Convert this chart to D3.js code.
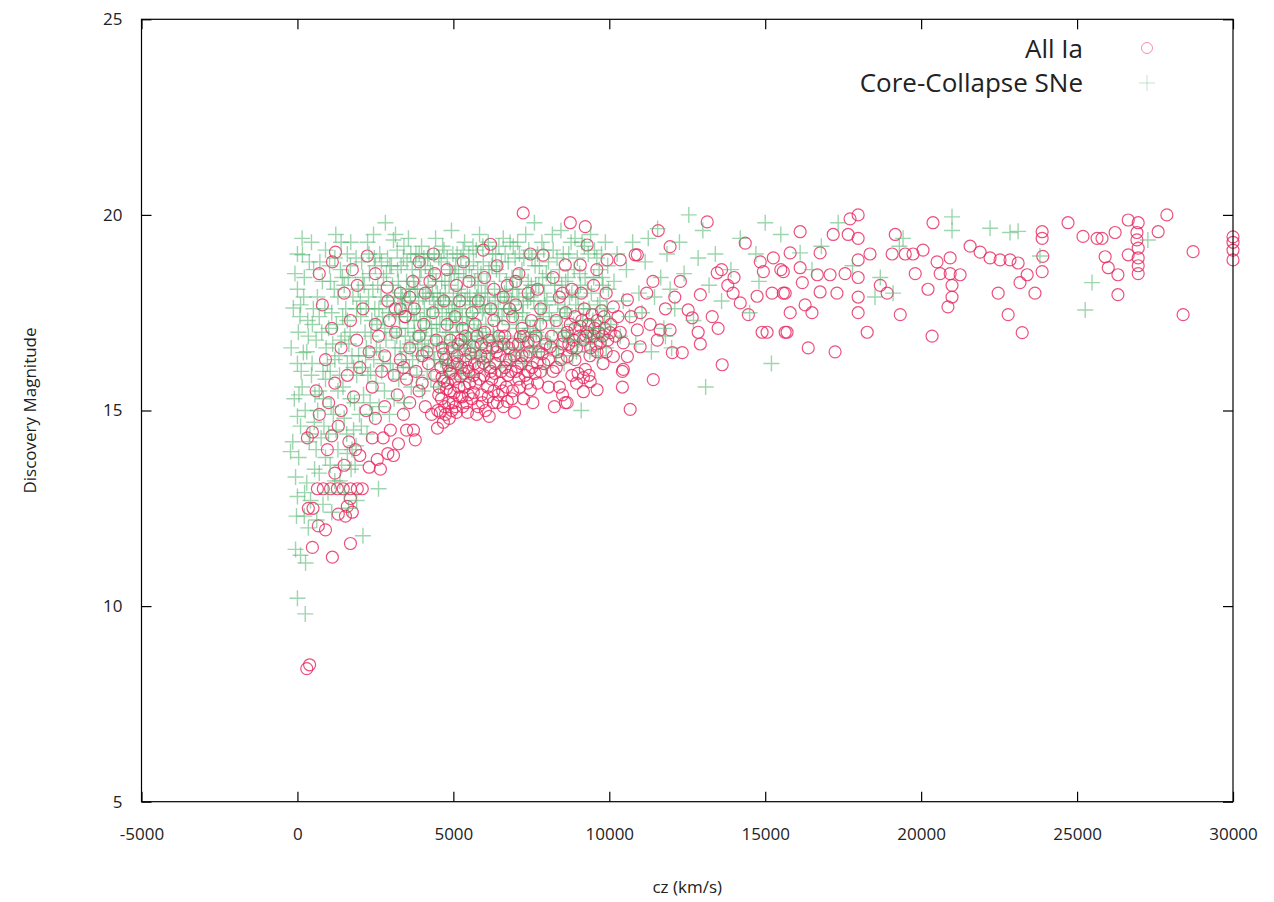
<!DOCTYPE html>
<html>
<head>
<meta charset="utf-8">
<script src="https://cdn.jsdelivr.net/npm/d3@7/dist/d3.min.js"></script>
<style>
  body { margin: 0; background: #fff; }
  text { font-family: "Open Sans", "Noto Sans", sans-serif; fill: #222; }
</style>
</head>
<body>
<svg id="chart" width="1274" height="902"></svg>
<script>
// tick values
const xTicks = [-5000, 0, 5000, 10000, 15000, 20000, 25000, 30000];
const yTicks = [5, 10, 15, 20, 25];
const seriesNames = ['All Ia', 'Core-Collapse SNe'];

// Type Ia: [cz (km/s), discovery magnitude]
const iaNear = [
  [300,8.4],[390,8.5],[480,11.5],[1120,11.25],[1700,11.6],
  [900,11.95],[670,12.05],[350,12.5],[500,12.5],[1310,12.35],[1540,12.3],[1760,12.4],[1600,12.55],[1700,12.75],
  [640,13.0],[830,13.0],[1060,13.0],[1280,13.0],[1470,13.0],[1700,13.0],[1920,13.0],[2080,13.0],
  [1200,13.4],[1500,13.6],[2000,13.85],[1860,14.0],[2300,13.55],[2660,13.5],[2560,13.75],[960,14.0],[320,14.3],
  [480,14.45],[1310,14.6],[1100,14.35],[1650,14.2],[2400,14.3],
  [700,14.9],[1000,15.2],[1400,15.0],[1800,15.35],[2200,15.0],[2500,14.8],[2800,15.1],[600,15.5],[1200,15.7],
  [1600,15.9],[2000,16.1],[2400,15.6],[2700,16.0],[900,16.3],[1400,16.6],[1900,16.8],[2300,16.5],[2600,16.9],
  [1100,17.1],[1700,17.3],[2100,17.6],[2500,17.2],[2900,17.8],[800,17.7],[1500,18.0],[1920,18.2],[2880,18.15],
  [1760,18.6],[1220,19.05],[1120,18.8],[2240,18.95],[700,18.5],[2500,18.5]
];
const iaMid = [
  [3080,13.85],[3240,14.15],[3780,14.25],[3720,14.5],[2980,14.5],[4490,14.55],[4680,14.7],[3400,14.9],[3600,15.2],
  [3200,15.4],[3900,15.5],[4100,15.1],[4300,14.9],[3500,15.8],[3800,16.0],[4000,15.7],[4200,16.2],[4400,15.9],
  [3300,16.3],[3600,16.6],[3900,16.9],[4150,16.5],[4450,16.8],[3150,17.0],[3450,17.4],[3750,17.6],[4050,17.2],
  [4350,17.5],[3140,17.6],[3460,17.4],[3300,18.0],[3700,18.3],[4100,18.0],[4400,18.5],[4360,19.0],[3900,18.8],
  [4500,15.0],[4620,15.3],[4750,14.9],[4850,15.2],[4950,15.0],[5000,15.2],[5100,14.95],[5200,15.35],[5300,15.1],
  [5450,14.95],[4550,15.6],[4700,15.75],[4810,15.7],[4900,15.5],[5050,15.8],[5220,15.87],[5350,15.6],[5480,15.4],
  [4600,16.1],[4750,16.3],[4880,16.0],[5000,16.22],[5120,16.4],[5260,16.1],[5400,16.3],[5500,16.0],[4650,16.6],
  [4900,16.8],[5150,16.7],[5380,16.9],[4800,17.2],[5050,17.4],[5300,17.1],[5320,18.8],[5100,18.2],[4700,17.8],
  [5640,15.46],[5800,15.1],[6030,15.0],[6280,15.2],[6410,15.2],[6730,15.23],[5900,15.4],[6100,15.6],[6300,15.5],
  [6500,15.7],[6700,15.6],[6900,15.5],[7100,15.8],[7470,15.53],[7300,15.9],[7700,15.7],[5650,15.9],[5800,16.1],
  [5960,16.22],[6090,16.38],[6200,16.0],[6350,16.2],[6500,16.4],[6650,16.1],[6800,16.3],[7050,16.12],[7200,16.4],
  [7400,16.0],[7690,16.22],[7850,16.45],[5640,16.63],[5900,16.7],[6150,16.8],[6410,16.63],[6650,16.9],[6900,16.7],
  [7150,16.89],[7400,16.75],[7650,16.9],[8110,16.63],[5700,17.2],[6000,17.0],[6300,17.3],[6600,17.15],[6900,17.4],
  [7200,17.1],[7500,17.3],[7800,17.2],[5800,17.8],[6200,17.6],[6600,17.9],[7000,17.7],[7400,18.0],[7800,17.6],
  [6730,18.2],[6000,18.4],[5960,19.1],[6190,19.25],[7470,19.0],[7880,18.97],[7240,20.05],[6400,18.7],[7100,18.5],
  [5500,18.3],
  [8240,15.1],[8650,15.2],[8590,15.2],[9170,15.48],[9390,15.74],[9610,15.53],[9170,15.84],[8400,15.6],[8800,15.9],
  [9000,15.95],[9230,16.05],[8300,16.1],[8650,16.38],[8900,16.3],[9610,16.5],[9800,16.2],[10130,16.38],[8500,16.7],
  [8800,16.6],[9170,16.8],[9400,16.6],[9710,16.73],[8650,17.0],[8900,17.1],[9070,17.15],[9300,17.0],[9500,16.9],
  [9610,17.3],[9850,17.1],[10030,16.99],[8300,17.3],[8600,17.5],[8900,17.4],[9200,17.6],[9450,17.45],[9750,17.55],
  [10130,17.65],[8400,17.9],[8800,18.1],[9100,18.0],[9500,18.2],[9900,18.0],[8590,18.72],[9070,18.72],[9290,19.23],
  [9930,18.85],[8750,19.8],[9230,19.7],[8200,18.4]
];
// the dense Ia clump between 4500 and 10500 km/s
const iaCore = [
  [4530,15.4],[4580,14.95],[4640,15.85],[4690,16.45],[4720,15.1],[4780,15.55],[4830,16.15],[4870,14.8],[4920,15.95],
  [4960,16.6],[5020,15.45],[5070,15.1],[5130,16.2],[5180,15.6],[5240,16.8],[5280,15.35],[5330,15.95],[5370,16.55],
  [5420,15.2],[5460,16.1],[5520,15.7],[5560,16.45],[5600,15.3],[5680,16.2],[5720,15.7],[5760,16.9],[5840,15.8],
  [5880,16.4],[5930,15.2],[5980,15.9],[6050,16.6],[6120,15.35],[6170,16.1],[6230,15.8],[6260,16.6],[6330,15.95],
  [6380,16.5],[6440,15.4],[6460,16.9],[6540,16.0],[6580,15.5],[6620,16.7],[6690,16.3],[6750,15.9],[6780,16.6],
  [6850,16.0],[6880,15.3],[6950,16.4],[7000,16.0],[7080,16.7],[7130,15.6],[7180,16.2],[7250,16.9],[7330,16.4],
  [7380,15.7],[7440,16.5],[7520,16.1],[7580,16.8],[7620,15.95],[7740,16.5],[7800,16.0],[7900,16.2],[7960,16.7],
  [8050,16.3],[8150,16.9],[8200,16.0],[8350,16.5],[8450,16.3],[8550,16.9],[8700,16.7],[8750,17.2],[8850,16.8],
  [8950,16.6],[9050,16.9],[9120,17.3],[9250,16.9],[9330,17.2],[9380,16.4],[9530,17.1],[9580,16.7],[9660,17.0],
  [9780,16.9],[9830,17.4],[9950,16.8],[10050,17.2],[10200,16.9],[10280,17.4],[10350,17.0],[9900,16.5],[9350,15.9],
  [8950,15.7],[8500,15.4],[8050,15.6],[7550,15.2],[7250,15.3],[6960,14.95],[6600,15.1],[6150,14.85],[5750,14.9],
  [3600,17.9],[4250,18.3],[4800,18.6],[5600,17.5],[6300,18.1],[7000,18.3],[7700,18.1],[8500,18.0],[3300,17.6],
  [5200,17.8],[6800,17.6],[9600,18.6],[4000,16.4],[3400,16.1],[2800,16.4],[2950,17.3],[3100,15.9],[2750,14.3],
  [2900,13.9],[3500,14.5]
];
const iaOuter = [
  [10350,18.85],[10830,18.98],[10580,17.83],[10900,17.06],[10450,16.05],[10420,15.6],[10670,15.03],[10450,16.73],
  [10990,16.63],[10580,16.38],[10420,16.0],[11410,15.79],[11310,17.2],[11540,16.8],[11950,17.06],[12020,16.48],
  [12340,16.48],[11570,19.6],[13140,19.82],[10900,18.98],[11950,19.19],[12280,18.3],[12920,17.96],[12530,17.57],
  [12660,17.37],[13300,17.4],[12850,17.0],[12920,16.7],[13490,17.1],[13620,16.17],[11630,17.06],[11000,17.5],
  [11200,18.0],[11800,17.6],[12100,17.9],[10700,17.4],[11400,18.3],[13460,18.52],[13970,18.0],[14200,17.75],
  [14460,17.45],[14740,17.92],[14900,17.0],[15060,17.0],[15700,17.0],[15800,17.5],[15640,18.0],[15220,18.0],
  [14360,19.28],[14840,18.8],[14940,18.55],[15260,18.9],[15800,19.03],[15580,18.55],[15500,18.6],[15580,18.0],
  [15640,17.0],[14000,18.4],[13600,18.6],[13800,18.2]
];
const iaFar = [
  [16120,19.57],[16760,19.03],[17180,19.5],[17720,19.9],[17980,20.0],[17660,19.5],[17980,19.4],[17980,18.85],
  [17980,18.4],[17980,17.9],[17980,17.5],[18360,19.0],[16120,18.65],[16190,18.27],[16280,17.7],[16500,17.5],
  [16380,16.6],[17240,16.5],[16670,18.47],[16760,18.03],[17300,18.0],[17080,18.47],[17560,18.5],[18270,17.0],
  [18690,18.2],[18910,18.0],[19330,17.45],[19170,19.5],[19070,19.0],[19490,19.0],[19740,19.0],[20060,19.1],
  [20380,19.8],[19810,18.5],[20220,18.1],[20350,16.9],[20510,18.8],[20610,18.5],[20930,18.9],[20930,18.5],
  [21250,18.47],[20990,18.2],[20990,17.9],[20860,17.65],[21570,19.2],[21890,19.05],[22210,18.9],[22530,18.85],
  [22850,18.85],[23110,18.77],[23400,18.47],[23170,18.27],[22470,18.0],[22790,17.45],[23240,16.99],[23650,18.0],
  [23880,19.57],[23880,19.4],[23900,18.94],[23880,18.55],[24710,19.8],[25190,19.45],[25640,19.4],[25800,19.4],
  [26220,19.55],[26640,19.87],[26960,19.8],[26920,19.55],[26920,19.36],[26960,19.15],[26960,18.9],[26960,18.7],
  [26960,18.5],[26640,18.98],[25900,18.93],[26000,18.65],[26310,18.47],[26310,17.96],[27600,19.57],[27880,20.0],
  [28720,19.06],[28400,17.45],[30000,19.44],[30000,19.3],[30000,19.1],[30000,18.85]
];

// Core-collapse: [cz (km/s), discovery magnitude]
const ccNear = [
  [0,10.2],[250,9.8],[100,11.3],[-60,11.45],[350,12.0],[220,12.3],[420,12.7],[0,12.8],[-60,13.3],[300,13.15],
  [-220,13.95],[100,14.6],[0,14.85],[380,14.2],[250,15.0],[-100,15.3],[150,15.6],[450,15.9],[0,16.2],[300,16.5],
  [190,16.48],[30,17.0],[-130,17.62],[100,17.7],[510,17.6],[0,18.1],[220,18.4],[160,18.98],[0,19.0],[480,17.2],
  [600,14.0],[700,13.4],[820,12.6],[900,13.8],[1000,14.4],[1080,15.1],[1200,13.2],[1300,14.0],[1420,13.6],
  [1500,14.8],[1600,13.9],[1700,15.3],[1800,14.5],[1900,15.9],[700,15.5],[820,16.0],[920,16.6],[1000,17.1],
  [1100,17.5],[1200,16.3],[1300,17.9],[1400,16.8],[1500,18.2],[1600,17.3],[1700,18.7],[1800,16.1],[1900,17.6],
  [600,16.8],[700,17.4],[800,18.3],[1060,18.3],[1440,18.4],[1200,18.9],[1400,19.3],[520,18.6],[1600,19.0],
  [1100,12.4],[1500,12.9],[620,12.2],[1900,12.7],[650,15.0],[900,15.8],[400,14.4],[1300,15.5],[1600,16.2],
  [1050,16.0],[550,13.5],[850,14.6],[1150,14.9],[1750,14.0],[350,16.9],[780,17.0],[1250,17.2],[1650,16.7],
  [1950,18.1],[900,19.1],[450,19.3],[-200,16.6],[-150,14.2],[50,15.4],[200,17.9],[1350,15.9],[1550,17.6],
  [1850,13.6],[1750,16.4],
  [560,15.4],[640,17.9],[760,14.3],[830,15.3],[880,17.6],[960,16.2],[1030,18.7],[1130,16.7],[1180,18.1],
  [1240,14.5],[1330,16.4],[1380,18.6],[1460,15.6],[1520,16.9],[1580,14.4],[1630,18.4],[1690,17.0],[1720,13.5],
  [1780,17.9],[1830,15.2],[1880,18.9],[1960,16.4],[1990,14.9],[-80,18.5],[120,16.0],[40,13.8],[230,12.9],
  [330,17.3],[380,18.8],[470,16.2],[540,14.7],[-30,12.3],[260,11.1],[80,17.4],[150,19.4],[980,12.9],[1360,13.2],
  [1640,12.5],[1450,17.4],[1050,13.6],[720,18.8],[1880,14.1],[1230,19.5],[1710,19.3]
];
const ccMid = [
  [2050,14.6],[2080,16.1],[2030,17.4],[2060,18.8],[2120,15.4],[2170,17.0],[2140,18.2],[2100,11.8],
  [2230,14.4],[2260,15.9],[2210,16.6],[2280,17.9],[2250,19.3],[2330,15.2],[2360,16.9],[2310,18.5],[2440,19.5],
  [2410,14.9],[2450,16.3],[2480,17.6],[2420,18.1],[2520,15.7],[2550,17.2],[2500,18.7],[2600,13.0],
  [2620,15.1],[2650,16.5],[2680,17.9],[2640,19.0],[2700,16.0],[2730,17.4],[2760,18.4],[2790,15.5],[2820,19.8],
  [2840,16.8],[2870,17.8],[2890,18.9],[2950,14.9],[2980,16.2],
  [3020,17.0],[3050,18.2],[3080,19.36],[3100,15.3],[3130,16.6],[3160,17.5],[3200,19.1],[3210,18.6],[3250,15.8],
  [3280,17.1],[3310,18.0],[3340,16.3],[3370,17.7],[3400,18.9],[3430,15.2],[3460,16.9],[3500,18.3],[3530,17.4],
  [3560,19.4],[3590,16.1],[3620,17.9],[3650,15.6],[3680,18.6],[3710,16.8],[3740,17.3],[3770,18.1],[3800,19.0],
  [3830,15.9],[3860,16.6],[3890,17.8],[3920,18.4],[3950,17.0],[3980,19.2],
  [4010,15.5],[4040,16.4],[4070,17.6],[4100,18.7],[4130,17.1],[4160,16.0],[4190,18.2],[4220,19.0],[4250,17.4],
  [4280,15.8],[4310,16.9],[4340,18.5],[4370,17.8],[4400,16.3],[4430,19.4],[4460,17.2],[4490,18.0],[4520,15.6],
  [4550,16.7],[4580,17.9],[4610,18.8],[4640,17.5],[4670,16.2],[4700,19.1],[4730,18.3],[4760,17.0],[4790,15.9],
  [4820,16.5],[4850,17.7],[4880,18.6],[4910,17.3],[4940,19.6],[4970,16.8],
  [5000,17.9],[5030,18.5],[5060,16.0],[5090,17.2],[5120,19.0],[5150,18.1],[5180,16.6],[5210,17.6],[5240,18.9],
  [5270,15.8],[5300,17.0],[5330,18.4],[5360,19.3],[5390,16.4],[5420,17.4],[5450,18.0],[5480,16.9],[5510,18.7],
  [5540,17.7],[5570,15.9],[5600,16.8],[5630,19.2],[5660,17.3],[5690,18.3],[5720,16.3],[5750,17.9],[5780,18.6],
  [5810,17.1],[5840,19.5],[5870,16.6],[5900,18.0],[5930,17.5],[5960,18.8],
  [6000,16.2],[6040,17.2],[6080,18.3],[6120,19.3],[6160,17.7],[6200,16.5],[6240,18.7],[6280,17.0],[6320,18.1],
  [6360,19.0],[6400,16.8],[6440,17.6],[6480,18.5],[6520,16.1],[6560,17.4],[6600,19.4],[6640,18.0],[6680,16.6],
  [6720,17.9],[6760,18.8],[6800,17.2],[6840,16.3],[6880,18.4],[6920,19.2],[6960,17.5],
  [7000,16.4],[7040,18.1],[7080,17.1],[7120,19.0],[7160,16.8],[7200,18.6],[7240,17.7],[7280,16.2],[7320,19.5],
  [7360,17.3],[7400,18.3],[7440,16.6],[7480,17.9],[7520,18.9],[7560,17.0],[7600,19.8],[7640,18.2],[7680,16.5],
  [7720,17.6],[7760,18.7],[7800,16.9],[7840,19.3],[7880,17.4],[7920,18.0],[7960,16.1],
  [8000,17.8],[8050,18.8],[8100,16.7],[8150,17.3],[8200,19.1],[8250,18.2],[8300,16.4],[8350,17.7],[8400,18.6],
  [8450,19.6],[8500,17.0],[8550,16.2],[8600,18.3],[8650,17.5],[8700,19.0],[8750,16.8],[8800,18.0],[8850,17.2],
  [8900,19.4],[8950,16.5],
  [9000,17.9],[9050,18.5],[9100,15.0],[9150,17.3],[9200,19.2],[9250,16.7],[9300,18.1],[9350,17.6],[9400,19.5],
  [9450,16.9],[9500,18.4],[9550,17.1],[9600,18.9],[9650,16.4],[9700,17.8],[9750,19.0],[9800,18.2],[9850,17.4],
  [9900,16.6],[9950,18.7]
];
// second pass over the thick CC band (2000-10000 km/s)
const ccBand = [
  [2015,17.8],[2095,18.4],[2185,16.4],[2205,17.6],[2295,19.0],[2345,16.0],[2385,17.3],[2465,18.9],[2535,16.6],
  [2575,18.2],[2615,17.6],[2695,18.8],[2745,16.2],[2805,17.1],[2855,18.5],[2935,17.5],[2965,18.7],
  [3015,18.7],[3065,16.0],[3115,17.9],[3145,19.5],[3185,16.9],[3235,18.3],[3265,17.4],[3295,16.6],[3325,18.7],
  [3355,17.9],[3395,16.1],[3415,19.2],[3445,17.8],[3485,16.5],[3515,18.8],[3545,17.1],[3575,18.1],[3605,16.7],
  [3635,19.0],[3665,17.6],[3695,16.3],[3725,18.3],[3755,17.0],[3785,18.8],[3815,17.5],[3845,18.1],[3875,16.4],
  [3905,19.0],[3935,17.3],[3965,18.6],[3995,16.7],
  [4025,17.9],[4055,18.9],[4085,16.8],[4115,18.0],[4145,17.4],[4175,18.9],[4205,16.6],[4235,17.9],[4265,18.6],
  [4295,17.1],[4325,18.0],[4355,16.5],[4385,19.0],[4415,17.6],[4445,18.3],[4475,16.9],[4505,17.7],[4535,18.9],
  [4565,17.2],[4595,16.3],[4625,18.3],[4655,19.2],[4685,17.8],[4715,16.7],[4745,18.0],[4775,17.4],[4805,18.9],
  [4835,16.2],[4865,18.2],[4895,17.0],[4925,18.5],[4955,17.6],[4985,19.0],
  [5015,16.6],[5045,17.5],[5075,18.7],[5105,17.8],[5135,16.4],[5165,18.5],[5195,17.2],[5225,16.1],[5255,18.0],
  [5285,17.4],[5315,19.1],[5345,16.7],[5375,17.8],[5405,18.6],[5435,16.8],[5465,17.2],[5495,19.0],[5525,17.9],
  [5555,16.5],[5585,18.4],[5615,17.5],[5645,18.8],[5675,16.6],[5705,17.8],[5735,19.1],[5765,17.0],[5795,18.2],
  [5825,16.4],[5855,17.7],[5885,18.5],[5915,16.9],[5945,19.2],[5975,17.6],
  [6020,18.0],[6060,16.8],[6100,17.9],[6140,18.6],[6180,16.3],[6220,17.5],[6260,19.0],[6300,16.9],[6340,17.8],
  [6380,18.6],[6420,17.3],[6460,19.2],[6500,17.9],[6540,18.8],[6580,16.7],[6620,17.6],[6660,19.0],[6700,18.3],
  [6740,16.9],[6780,17.6],[6820,19.3],[6860,17.8],[6900,18.1],[6940,16.6],[6980,18.9],
  [7020,17.4],[7060,19.3],[7100,17.9],[7140,18.4],[7180,16.5],[7220,17.5],[7260,18.9],[7300,16.9],[7340,18.0],
  [7380,17.8],[7420,19.1],[7460,17.1],[7500,18.2],[7540,16.6],[7580,17.8],[7620,18.7],[7660,17.0],[7700,19.0],
  [7740,18.2],[7780,17.3],[7820,16.5],[7860,18.4],[7900,19.1],[7940,17.7],[7980,18.5],
  [8025,16.8],[8075,17.5],[8125,18.4],[8175,19.5],[8225,17.1],[8275,17.9],[8325,18.9],[8375,16.6],[8425,17.4],
  [8475,18.2],[8525,19.0],[8575,17.6],[8625,16.9],[8675,18.4],[8725,17.9],[8775,19.3],[8825,16.4],[8875,18.6],
  [8925,17.7],[8975,18.9],
  [9025,16.8],[9075,18.2],[9125,19.3],[9175,17.6],[9225,18.4],[9275,17.0],[9325,19.0],[9375,16.5],[9425,18.0],
  [9475,17.3],[9525,19.1],[9575,16.8],[9625,17.7],[9675,18.6],[9725,17.1],[9775,18.4],[9825,16.9],[9875,19.3],
  [9925,17.6],[9975,18.1]
];
const ccOuter = [
  [10050,17.2],[10150,18.3],[10250,19.0],[10350,16.9],[10450,17.8],[10550,18.6],[10650,17.4],[10750,19.3],
  [10850,16.7],[10950,18.0],[11050,17.5],[11150,18.8],[11250,19.4],[11350,16.5],[11450,17.9],[11550,19.65],
  [11650,18.4],[11750,17.1],[11850,19.0],[11950,18.1],[12100,17.6],[12250,19.3],[12400,18.5],[12550,20.0],
  [12700,17.3],[12850,18.9],[13090,15.6],[13200,18.2],[13400,19.0],[13600,17.8],[13900,18.6],[14200,19.4],
  [14500,17.5],[14800,18.3],[15000,19.8],[15200,16.2],[14700,19.0],[12000,16.6],[13000,19.6],[11800,16.9]
];
const ccFar = [
  [16120,19.03],[16500,18.6],[17340,19.8],[18690,18.4],[18520,17.9],[19100,18.0],[19420,19.4],[19300,19.2],
  [20990,19.95],[20990,19.6],[22210,19.66],[22850,19.55],[23110,19.58],[23810,18.95],[25480,18.27],[25260,17.57],
  [27270,19.36],[15500,19.5],[16800,19.2],[17800,18.7]
];

const iaData = [].concat(iaNear, iaMid, iaCore, iaOuter, iaFar);
const ccData = [].concat(ccNear, ccMid, ccBand, ccOuter, ccFar);

const svg = d3.select('#chart');
const plotLeft = 141.5, plotRight = 1233, plotTop = 19.3, plotBottom = 801.7;

const x = d3.scaleLinear().domain([-5000, 30000]).range([plotLeft, plotRight]);
const y = d3.scaleLinear().domain([5, 25]).range([plotBottom, plotTop]);

const redColor = '#e8245c';
const greenColor = '#4db46c';
const plusPath = 'M-8,0H8M0,-8V8';

// points: Ia first, CC drawn over them
svg.append('g')
  .selectAll('circle')
  .data(iaData)
  .enter()
  .append('circle')
  .attr('cx', d => x(d[0]))
  .attr('cy', d => y(d[1]))
  .attr('r', 6)
  .attr('fill', 'none')
  .attr('stroke', redColor)
  .attr('stroke-width', 1.2)
  .attr('opacity', 0.8);

svg.append('g')
  .selectAll('path')
  .data(ccData)
  .enter()
  .append('path')
  .attr('d', plusPath)
  .attr('transform', d => `translate(${x(d[0])},${y(d[1])})`)
  .attr('fill', 'none')
  .attr('stroke', greenColor)
  .attr('stroke-width', 1.4)
  .attr('opacity', 0.55);

// axes with inward ticks on all four sides
const fmt = d => String(d);
svg.append('g')
  .attr('transform', `translate(0,${plotBottom})`)
  .call(d3.axisBottom(x).tickValues(xTicks).tickFormat(fmt).tickSizeInner(-10).tickSizeOuter(0).tickPadding(26));
svg.append('g')
  .attr('transform', `translate(${plotLeft},0)`)
  .call(d3.axisLeft(y).tickValues(yTicks).tickFormat(fmt).tickSizeInner(-10).tickSizeOuter(0).tickPadding(19));
svg.append('g')
  .attr('transform', `translate(0,${plotTop})`)
  .call(d3.axisTop(x).tickValues(xTicks).tickSizeInner(-10).tickSizeOuter(0).tickFormat(''));
svg.append('g')
  .attr('transform', `translate(${plotRight},0)`)
  .call(d3.axisRight(y).tickValues(yTicks).tickSizeInner(-10).tickSizeOuter(0).tickFormat(''));

svg.selectAll('.domain').remove();
svg.selectAll('.tick line').attr('stroke', '#000').attr('stroke-width', 1.2);
svg.selectAll('.tick text')
  .style('font-family', '"Open Sans", sans-serif')
  .style('font-size', '17px')
  .attr('fill', '#222');

svg.append('rect')
  .attr('x', plotLeft).attr('y', plotTop)
  .attr('width', plotRight - plotLeft).attr('height', plotBottom - plotTop)
  .attr('fill', 'none')
  .attr('stroke', '#000')
  .attr('stroke-width', 1.2);

// axis titles
svg.append('text')
  .attr('x', (plotLeft + plotRight) / 2)
  .attr('y', 893)
  .attr('text-anchor', 'middle')
  .style('font-size', '17px')
  .text('cz (km/s)');

svg.append('text')
  .attr('transform', `translate(36,${(plotTop + plotBottom) / 2}) rotate(-90)`)
  .attr('text-anchor', 'middle')
  .style('font-size', '17px')
  .text('Discovery Magnitude');

// legend
const legend = svg.append('g');
legend.append('text')
  .attr('x', 1083).attr('y', 58)
  .attr('text-anchor', 'end')
  .style('font-size', '26px')
  .text(seriesNames[0]);
legend.append('text')
  .attr('x', 1083).attr('y', 92)
  .attr('text-anchor', 'end')
  .style('font-size', '26px')
  .text(seriesNames[1]);
legend.append('circle')
  .attr('cx', 1147).attr('cy', 48).attr('r', 5.5)
  .attr('fill', 'none').attr('stroke', redColor).attr('stroke-width', 1).attr('opacity', 0.5);
legend.append('path')
  .attr('d', plusPath)
  .attr('transform', 'translate(1147,83)')
  .attr('fill', 'none').attr('stroke', greenColor).attr('stroke-width', 1).attr('opacity', 0.35);
</script>
</body>
</html>
